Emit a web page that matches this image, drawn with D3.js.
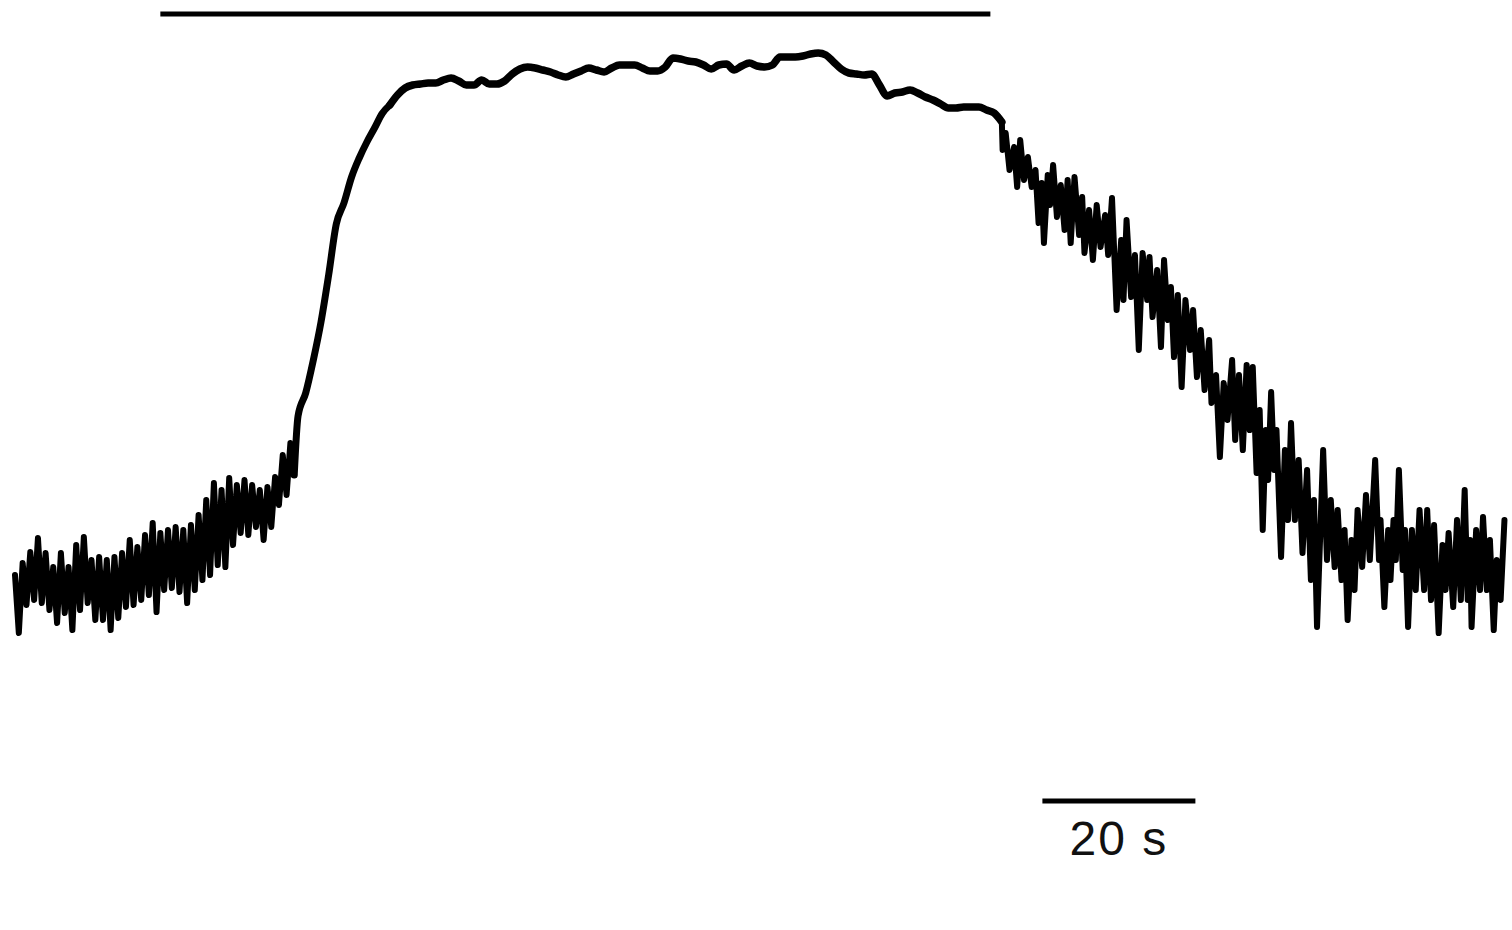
<!DOCTYPE html>
<html>
<head>
<meta charset="utf-8">
<title>Response trace</title>
<script src="https://cdn.jsdelivr.net/npm/d3@7"></script>
<style>
	body { margin: 0; background: #fff; }
</style>
</head>
<body>
<div id="chart-area"></div>
<script>
// Trace readings, [time (s), signal (a.u.)]
var baseline = [
	[0,13.0],[0.5,1.4],[1,15.4],[1.5,7.0],[2,17.6],[2.5,8.0],[3,20.4],[3.5,7.4],
	[4,17.4],[4.5,6.0],[5,14.6],[5.5,3.4],[6,17.4],[6.5,5.4],[7,14.6],[7.5,2.0],
	[8,19.0],[8.5,6.0],[9,20.6],[9.5,7.4],[10,16.0],[10.5,4.0],[11,16.6],[11.5,4.0],
	[12,16.0],[12.5,2.0],[13,16.6],[13.5,4.4],[14,17.4],[14.5,6.6],[15,20.0],[15.5,7.0],
	[16,18.6],[16.5,8.0],[17,21.0],[17.5,9.0],[18,23.4],[18.5,5.6],[19,21.4],[19.5,10.0],
	[20,22.0],[20.5,10.4],[21,22.6],[21.5,9.6],[22,22.0],[22.5,7.4],[23,23.0],[23.5,10.0],
	[24,25.0],[24.5,12.0],[25,28.0],[25.5,13.0],[26,31.4],[26.5,15.0],[27,30.0],[27.5,14.6],
	[28,32.4],[28.5,19.0],[29,31.0],[29.5,21.4],[30,32.0],[30.5,21.0],[31,31.0],[31.5,22.6],
	[32,30.0],[32.5,20.0],[33,30.6],[33.5,22.6],[34,32.6],[34.5,27.0],[35,37.0],[35.5,29.0],
	[36,39.4],[36.5,33.0]
];

var rise = [
	[37,44.8],[38,49.4],[39,56.0],[40,63.6],[41,73.0],[42,83.2],[43,87.4],
	[44,92.6],[45,96.4],[46,99.6],[47,102.4],[48,105.3],[49,107.0]
];

var plateau = [
	[50,109.0],[51,110.4],[52,111.0],[53,111.2],[54,111.4],[55,111.4],[56,112.0],[57,112.4],
	[58,111.8],[59,111.0],[60,111.0],[61,112.0],[62,111.2],[63,111.2],[64,111.8],[65,113.2],
	[66,114.2],[67,114.6],[68,114.4],[69,114.0],[70,113.6],[71,113.0],[72,112.6],[73,113.2],
	[74,113.8],[75,114.4],[76,114.0],[77,113.6],[78,114.4],[79,115.0],[80,115.0],[81,115.0],
	[82,114.4],[83,113.8],[84,113.8],[85,114.6],[86,116.4],[87,116.2],[88,115.8],[89,115.6],
	[90,115.0],[91,114.2],[92,115.0],[93,115.2],[94,114.0],[95,114.8],[96,115.4],[97,114.8],
	[98,114.6],[99,115.0],[100,116.6],[101,116.6],[102,116.6],[103,116.8],[104,117.2],[105,117.4],
	[106,117.0],[107,115.6],[108,114.2],[109,113.4],[110,113.2],[111,113.0],[112,113.2],[113,111.0],
	[114,108.8],[115,109.4],[116,109.6],[117,110.0],[118,109.4],[119,108.6],[120,108.0],[121,107.2],
	[122,106.4],[123,106.4],[124,106.6],[125,106.6],[126,106.6],[127,106.0],[128,105.4],[129,103.6]
];

var decay = [
	[129.1,98.0],[129.5,101.4],[130.0,94.0],[130.6,98.6],[131.0,90.6],[131.4,100.0],[131.9,92.0],
	[132.4,96.6],[132.9,90.6],[133.4,94.0],[133.8,83.4],[134.2,91.4],[134.5,79.4],[135.0,93.0],
	[135.3,87.0],[135.7,95.0],[136.2,84.6],[136.7,91.0],[137.2,82.0],[137.6,92.0],[138.0,79.4],
	[138.5,92.6],[139.1,81.0],[139.5,88.6],[139.8,77.4],[140.4,86.0],[140.9,76.0],[141.4,87.0],
	[141.9,78.6],[142.5,85.0],[142.9,77.0],[143.4,88.4],[144.0,66.0],[144.6,80.0],[144.9,68.0],
	[145.3,84.0],[145.9,68.6],[146.4,77.0],[146.9,58.0],[147.4,77.4],[148.0,68.0],[148.3,76.6],
	[148.7,64.6],[149.3,74.0],[149.8,58.6],[150.2,76.0],[150.7,64.0],[151.1,70.6],[151.5,56.6],
	[152.0,69.0],[152.5,50.6],[153.0,68.0],[153.6,58.0],[154.0,66.0],[154.5,52.6],[155.0,62.0],
	[155.5,50.0],[156.1,60.0],[156.4,47.4],[157.0,53.0],[157.5,36.6],[158.0,51.4],[158.5,44.0],
	[159.1,56.0],[159.5,40.0],[160.0,53.0],[160.5,38.0],[161.0,55.0],[161.4,42.0],[161.8,54.6],
	[162.3,33.4],[162.7,46.0],[163.1,22.0],[163.5,42.0],[163.8,32.0],[164.2,49.6],[164.6,34.0],
	[164.9,42.0],[165.5,16.6],[166.0,38.0],[166.4,24.0],[166.8,43.4],[167.3,24.0],[167.8,36.0],
	[168.3,17.4],[168.9,34.0],[169.4,12.0],[169.8,28.0],[170.2,2.6],[171.0,38.0],[171.5,16.0],
	[172.0,28.0],[172.5,14.6],[172.9,26.0],[173.4,12.0],[173.8,22.0],[174.2,4.0],[174.7,20.0],
	[175.1,10.0],[175.5,26.0],[176.1,14.6],[176.6,29.0],[177.1,16.0],[177.8,36.0],[178.3,16.0],
	[178.5,24.0],[179.0,6.6],[179.5,22.0],[179.8,12.0],[180.2,24.0],[180.5,16.0],[180.9,34.0],
	[181.4,14.0],[181.7,22.0],[182.1,2.6],[182.6,22.0],[183.1,10.0],[183.6,26.0],[184.2,10.0],
	[184.6,26.0],[185.1,8.0],[185.5,23.0],[186.1,1.4],[186.6,19.0],[187.0,10.0],[187.4,21.4],
	[188.0,6.6],[188.5,24.0],[189.0,8.0],[189.5,30.0],[189.9,8.0],[190.2,20.0],[190.4,2.6],
	[191.0,22.0],[191.5,10.0],[191.9,24.6],[192.4,10.0],[192.8,20.0],[193.3,2.0],[193.7,16.0],
	[194.2,8.0],[194.7,24.0]
];

// Stimulus period and time calibration (s)
var stimulus = [19, 127.5];
var scaleStart = 134.3;
var scaleLength = 20;
var scaleLabel = "20 s";

var width = 1512,
	height = 930;

// Time runs left to right, signal goes up
var x = d3.scaleLinear()
		.domain([0, 195])
		.range([15, 1506.75]);

var y = d3.scaleLinear()
		.domain([0, 120])
		.range([640, 40]);

var svg = d3.select("#chart-area")
	.append("svg")
		.attr("width", width)
		.attr("height", height);

// Each piece of the trace starts where the previous one stopped;
// the noisy parts get a heavy pen so the band fills in like the recording
var pieces = [
	{ data: baseline, stroke: 6, curve: d3.curveLinear },
	{ data: [baseline[baseline.length - 1]].concat(rise), stroke: 7, curve: d3.curveMonotoneX },
	{ data: [rise[rise.length - 1]].concat(plateau), stroke: 7.5, curve: d3.curveMonotoneX },
	{ data: [plateau[plateau.length - 1]].concat(decay), stroke: 6, curve: d3.curveLinear }
];

pieces.forEach((p) => {
	var line = d3.line()
		.x((d) => x(d[0]))
		.y((d) => y(d[1]))
		.curve(p.curve);

	svg.append("path")
		.datum(p.data)
		.attr("fill", "none")
		.attr("stroke", "#000")
		.attr("stroke-width", p.stroke)
		.attr("stroke-linejoin", "round")
		.attr("stroke-linecap", "round")
		.attr("d", line);
});

// Stimulus bar across the top
svg.append("line")
	.attr("x1", x(stimulus[0]))
	.attr("x2", x(stimulus[1]))
	.attr("y1", 14)
	.attr("y2", 14)
	.attr("stroke", "#000")
	.attr("stroke-width", 5);

// 20 s calibration bar
svg.append("line")
	.attr("x1", x(scaleStart))
	.attr("x2", x(scaleStart + scaleLength))
	.attr("y1", 801)
	.attr("y2", 801)
	.attr("stroke", "#000")
	.attr("stroke-width", 5);

svg.append("text")
	.attr("x", x(scaleStart + scaleLength / 2))
	.attr("y", 855)
	.attr("text-anchor", "middle")
	.attr("font-family", "Liberation Sans, Arial, sans-serif")
	.attr("font-size", 48)
	.attr("letter-spacing", 2)
	.attr("fill", "#111")
	.text(scaleLabel);
</script>
</body>
</html>
